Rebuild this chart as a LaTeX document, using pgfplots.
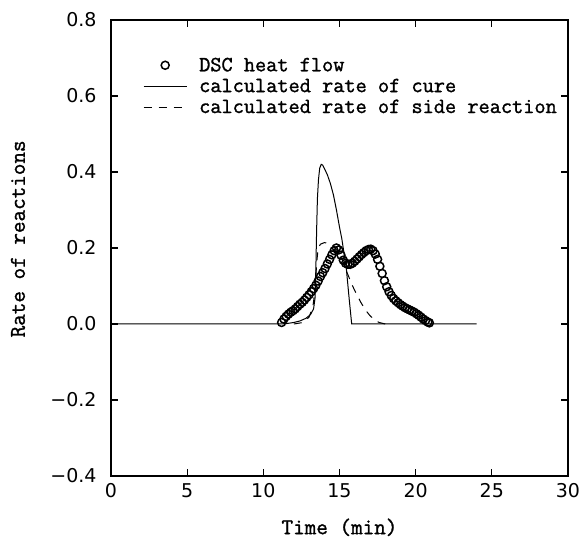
\documentclass[border=0pt]{standalone}
\usepackage{fontspec}
\usepackage{pgfplots}
\pgfplotsset{compat=1.18}
\setmainfont{DejaVu Sans}
\newfontfamily\monofont{Latin Modern Mono}[FakeBold=1.3]
\pgfplotsset{marklegend/.style={legend image code/.code={\draw[##1] plot coordinates {(21.5bp,0bp)};}}}
\begin{document}
\begin{tikzpicture}
\path[use as bounding box] (-111bp,-65bp) rectangle (473bp,476bp);
\begin{axis}[
  scale only axis,
  width=457bp, height=456bp,
  xmin=0, xmax=30, ymin=-0.4, ymax=0.8,
  xtick={0,5,10,15,20,25,30},
  ytick={-0.4,-0.2,0,0.2,0.4,0.6,0.8},
  yticklabels={−0.4,−0.2,0.0,0.2,0.4,0.6,0.8},
  xticklabels={0,5,10,15,20,25,30},
  tick align=inside,
  major tick length=7bp,
  minor tick num=0,
  axis line style={line width=1.2bp},
  every tick/.style={line width=1.1bp, black},
  ticklabel style={font=\fontsize{19bp}{22bp}\selectfont},
  yticklabel style={xshift=-11bp},
  xticklabel style={yshift=-4bp},
  xlabel={Time (min)},
  ylabel={Rate of reactions},
  label style={font=\monofont\fontsize{22.5bp}{26bp}\selectfont, inner sep=0pt},
  xlabel style={at={(axis description cs:0.5,-0.1125)}, anchor=center},
  ylabel style={at={(axis description cs:-0.2035,0.52)}, anchor=center},
  legend style={draw=none, fill=none, at={(rel axis cs:0.07,0.922)}, anchor=north west,
    inner sep=0pt, row sep=2bp, column sep=10bp,
    font=\monofont\fontsize{21.7bp}{24bp}\selectfont},
  legend cell align=left,
  legend image code/.code={\draw[#1] (0bp,0bp) -- (43bp,0bp);},
]
\addplot[only marks, mark=o, mark size=4bp, line width=1.5bp, black, marklegend]
coordinates {
(11.2,0.004)(11.35,0.013)(11.5,0.02)(11.65,0.026)(11.8,0.031)(11.95,0.035)
(12.1,0.04)(12.25,0.046)(12.4,0.052)(12.55,0.057)(12.7,0.063)(12.85,0.07)
(13.0,0.077)(13.15,0.085)(13.3,0.093)(13.45,0.102)(13.6,0.113)(13.75,0.125)
(13.9,0.135)(14.05,0.146)(14.2,0.158)(14.35,0.17)(14.5,0.182)(14.65,0.193)
(14.8,0.2)(14.95,0.195)(15.1,0.181)(15.25,0.168)(15.4,0.16)(15.55,0.157)
(15.7,0.157)(15.85,0.16)(16.0,0.165)(16.15,0.171)(16.3,0.177)(16.45,0.183)
(16.6,0.188)(16.75,0.193)(16.9,0.196)(17.05,0.197)(17.2,0.193)(17.35,0.184)
(17.5,0.17)(17.65,0.152)(17.8,0.133)(17.95,0.114)(18.1,0.098)(18.25,0.085)
(18.4,0.075)(18.55,0.067)(18.7,0.061)(18.85,0.056)(19.0,0.051)(19.15,0.047)
(19.3,0.043)(19.45,0.04)(19.6,0.037)(19.75,0.034)(19.9,0.031)(20.05,0.027)
(20.2,0.023)(20.35,0.018)(20.5,0.013)(20.65,0.009)(20.8,0.005)(20.9,0.003)
};
\addlegendentry{DSC heat flow}
\addplot[black, line width=1bp] coordinates {
(0,0)(11.0,0)(11.5,0.001)(12.0,0.004)(12.4,0.008)(12.8,0.015)(13.1,0.025)
(13.3,0.04)(13.4,0.07)(13.45,0.15)(13.5,0.25)(13.55,0.33)(13.62,0.38)
(13.7,0.41)(13.8,0.42)(13.9,0.418)(14.0,0.41)(14.2,0.393)(14.4,0.37)
(14.6,0.34)(14.8,0.30)(15.0,0.255)(15.15,0.225)(15.45,0.145)(15.65,0.06)
(15.8,0)(24.0,0)
};
\addlegendentry{calculated rate of cure}
\addplot[black, line width=1bp, dash pattern=on 8bp off 7bp] coordinates {
(12.0,0)(12.6,0.004)(13.0,0.018)(13.25,0.045)(13.4,0.09)(13.5,0.16)
(13.6,0.2)(13.75,0.21)(14.0,0.214)(14.3,0.213)(14.6,0.205)(14.9,0.19)
(15.2,0.168)(15.5,0.135)(15.8,0.105)(16.1,0.08)(16.4,0.057)(16.7,0.037)
(17.0,0.022)(17.3,0.011)(17.6,0.004)(18.0,0)
};
\addlegendentry{calculated rate of side reaction}
\end{axis}
\end{tikzpicture}
\end{document}
